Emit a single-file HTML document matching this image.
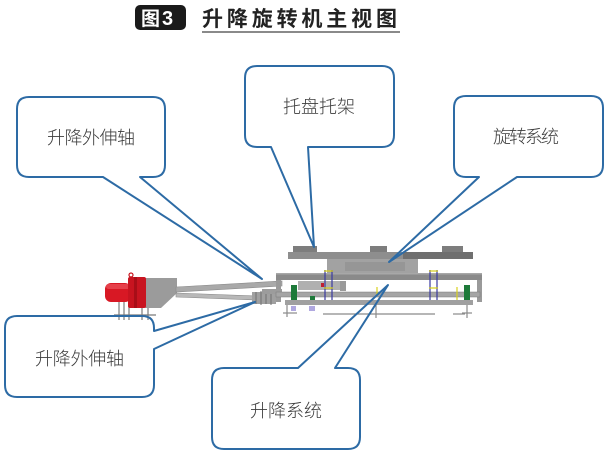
<!DOCTYPE html>
<html><head><meta charset="utf-8"><style>
html,body{margin:0;padding:0;background:#fff;}
svg{display:block;}
text{font-family:"Liberation Sans","Noto Sans CJK SC",sans-serif;}
</style></head><body>
<svg width="613" height="457" viewBox="0 0 613 457" xmlns="http://www.w3.org/2000/svg">
<rect width="613" height="457" fill="#fff"/>

<!-- Title -->
<rect x="135" y="5" width="51" height="25" rx="5" fill="#1a1a1a"/>
<text x="141" y="25" font-size="19" font-weight="bold" fill="#fff">图</text>
<text x="162" y="25" font-size="20" font-weight="bold" fill="#fff">3</text>
<text x="202" y="26" font-size="21" font-weight="bold" fill="#222" textLength="195" lengthAdjust="spacing">升降旋转机主视图</text>
<rect x="202" y="31" width="198" height="2" fill="#8a8a8a"/>

<!-- Callout fills -->
<g fill="#fff" stroke="none">
<path d="M29,97 H153 Q165,97 165,109 V165 Q165,177 153,177 H140 L262,279 L103,177 H29 Q17,177 17,165 V109 Q17,97 29,97 Z"/>
<path d="M257,66 H382 Q394,66 394,78 V135 Q394,147 382,147 H308 L314,247 L271,147 H257 Q245,147 245,135 V78 Q245,66 257,66 Z"/>
<path d="M466,96 H591 Q603,96 603,108 V165 Q603,177 591,177 H517 L389,262 L479,177 H466 Q454,177 454,165 V108 Q454,96 466,96 Z"/>
<path d="M17,316 H142 Q154,316 154,328 V331 L255,302 L154,349 V385 Q154,397 142,397 H17 Q5,397 5,385 V328 Q5,316 17,316 Z"/>
<path d="M224,368 H298 L388,285 L335,368 H348 Q360,368 360,380 V437 Q360,449 348,449 H224 Q212,449 212,437 V380 Q212,368 224,368 Z"/>
</g>

<!-- Machine -->
<g>
<!-- motor legs -->
<g stroke="#7a7a7a" stroke-width="1.2">
<line x1="119" y1="300" x2="119" y2="320"/>
<line x1="124" y1="300" x2="124" y2="320"/>
<line x1="129" y1="300" x2="129" y2="320"/>
<line x1="142" y1="300" x2="142" y2="320"/>
<line x1="148" y1="300" x2="148" y2="320"/>
<line x1="114" y1="315" x2="156" y2="315"/>
</g>
<!-- housing -->
<polygon points="145,278 177,278 177,293 161,308 145,308" fill="#9b9b9b"/>
<!-- rods -->
<polygon points="176,287 282,281 282,286 176,292" fill="#a9a9a9" stroke="#8a8a8a" stroke-width="0.6"/>
<polygon points="176,293 256,296 256,300 176,297" fill="#b8b8b8" stroke="#8a8a8a" stroke-width="0.6"/>
<!-- motor -->
<rect x="105" y="283" width="26" height="19" rx="6" fill="#d81824"/>
<rect x="106" y="284" width="24" height="5" rx="2.5" fill="#e6404a"/>
<rect x="128" y="277" width="18" height="31" rx="2" fill="#c81420"/>
<rect x="134" y="277" width="3" height="31" fill="#a80e18"/>
<circle cx="131" cy="275" r="2" fill="none" stroke="#c8121c" stroke-width="1.2"/>
<!-- coupling -->
<rect x="252" y="292" width="24" height="12" fill="#a0a0a0"/>
<g stroke="#707070" stroke-width="1"><line x1="256" y1="292" x2="256" y2="304"/><line x1="261" y1="291" x2="261" y2="305"/><line x1="266" y1="292" x2="266" y2="304"/><line x1="271" y1="291" x2="271" y2="305"/></g>

<!-- pads -->
<rect x="293" y="246" width="24" height="6" fill="#7d7d7d"/>
<rect x="370" y="246" width="17" height="6" fill="#7d7d7d"/>
<rect x="442" y="246" width="21" height="6" fill="#7d7d7d"/>
<!-- top plate -->
<rect x="288" y="252" width="185" height="7" fill="#8e8e8e"/>
<rect x="403" y="252" width="70" height="7" fill="#6f6f6f"/>
<!-- middle block -->
<rect x="327" y="259" width="91" height="14" fill="#a2a2a2"/>
<rect x="345" y="262" width="60" height="9" fill="#969696"/>
<!-- beam -->
<rect x="276" y="273" width="206" height="7" fill="#8a8a8a"/>
<rect x="276" y="273" width="206" height="1.5" fill="#a8a8a8"/>
<!-- under-beam parts -->
<rect x="276" y="280" width="5" height="22" fill="#9a9a9a"/>
<rect x="477" y="280" width="5" height="22" fill="#9a9a9a"/>
<rect x="298" y="281" width="42" height="9" fill="#b0b0b0"/>
<rect x="340" y="281" width="6" height="10" fill="#9a9a9a"/>
<rect x="321" y="283" width="3" height="4" fill="#c02030"/>
<!-- shaft -->
<rect x="262" y="289" width="20" height="5" fill="#9c9c9c"/>
<rect x="276" y="292" width="204" height="5" fill="#a5a5a5" stroke="#7a7a7a" stroke-width="0.5"/>
<!-- lower rail -->
<rect x="285" y="300" width="188" height="5" fill="#a0a0a0"/>
<!-- green blocks -->
<rect x="291" y="285" width="6" height="15" fill="#1e7a3a"/>
<rect x="464" y="285" width="6" height="15" fill="#1e7a3a"/>
<rect x="310" y="296" width="5" height="4" fill="#1e7a3a"/>
<!-- blue/yellow assemblies -->
<g fill="none" stroke-width="1.2">
<path d="M325,270 V300 M332,270 V300" stroke="#3a3aa0"/>
<path d="M324,271 H333 M324,288 H333" stroke="#d8d020"/>
<path d="M430,270 V300 M437,270 V300" stroke="#3a3aa0"/>
<path d="M429,271 H438 M429,288 H438" stroke="#d8d020"/>
<path d="M377,287 V296 M457,287 V300" stroke="#d8d020"/>
</g>
<!-- feet / base -->
<g stroke="#8a8a8a" stroke-width="1.2">
<line x1="287" y1="305" x2="287" y2="317"/>
<line x1="376" y1="305" x2="376" y2="318"/>
<line x1="467" y1="305" x2="467" y2="318"/>
<line x1="323" y1="314" x2="435" y2="314"/>
<line x1="453" y1="314" x2="465" y2="314"/>
<line x1="283" y1="313" x2="297" y2="313"/>
<line x1="462" y1="313" x2="472" y2="313"/>
</g>
<rect x="291" y="306" width="5" height="5" fill="#b0a8e0"/>
<rect x="309" y="306" width="6" height="5" fill="#b0a8e0"/>
</g>

<!-- Callout outlines -->
<g fill="none" stroke="#2d6ba5" stroke-width="2" stroke-linejoin="round">
<path d="M29,97 H153 Q165,97 165,109 V165 Q165,177 153,177 H140 L262,279 L103,177 H29 Q17,177 17,165 V109 Q17,97 29,97 Z"/>
<path d="M257,66 H382 Q394,66 394,78 V135 Q394,147 382,147 H308 L314,247 L271,147 H257 Q245,147 245,135 V78 Q245,66 257,66 Z"/>
<path d="M466,96 H591 Q603,96 603,108 V165 Q603,177 591,177 H517 L389,262 L479,177 H466 Q454,177 454,165 V108 Q454,96 466,96 Z"/>
<path d="M17,316 H142 Q154,316 154,328 V331 L255,302 L154,349 V385 Q154,397 142,397 H17 Q5,397 5,385 V328 Q5,316 17,316 Z"/>
<path d="M224,368 H298 L388,285 L335,368 H348 Q360,368 360,380 V437 Q360,449 348,449 H224 Q212,449 212,437 V380 Q212,368 224,368 Z"/>
</g>

<!-- Callout text -->
<g font-size="18" fill="#3c3c3c" font-weight="300">
<text x="47" y="144" textLength="88" lengthAdjust="spacing">升降外伸轴</text>
<text x="283" y="113" textLength="72" lengthAdjust="spacing">托盘托架</text>
<text x="493" y="143" textLength="66" lengthAdjust="spacing">旋转系统</text>
<text x="35" y="365" textLength="89" lengthAdjust="spacing">升降外伸轴</text>
<text x="250" y="417" textLength="72" lengthAdjust="spacing">升降系统</text>
</g>
</svg>
</body></html>
